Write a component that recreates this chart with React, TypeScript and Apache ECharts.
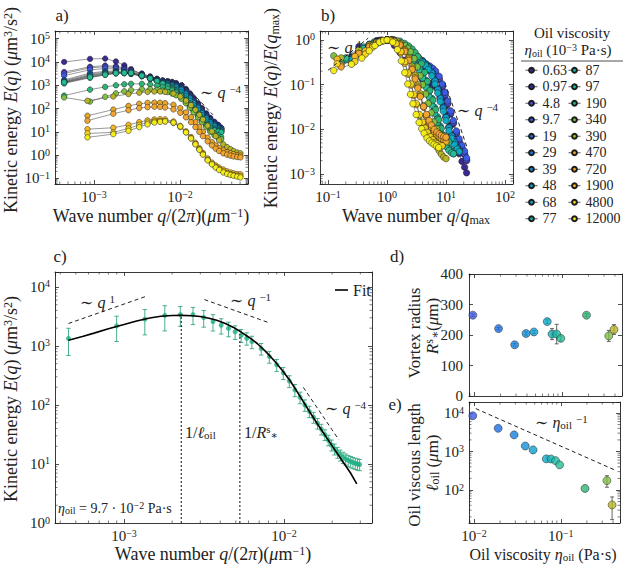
import React, { useEffect, useRef } from 'react';
import * as echarts from 'echarts';

const FONT = 'Liberation Serif, DejaVu Serif, serif';
const INK = '#222222';

// ---------- categories: oil viscosity (10^-3 Pa·s) ----------
const viscosityNames = ['0.63', '0.97', '4.8', '9.7', '19', '29', '39', '48', '68', '77', '87', '97', '190', '340', '390', '470', '720', '1900', '4800', '12000'];
const viscosityColors = ['#3b2a8f', '#3a31b3', '#4f4fd9', '#3a5be2', '#1b70e2', '#1480dd', '#118fd7', '#0e9dd2', '#0aa9c6', '#13b2b6', '#1cb9a6', '#26bc95', '#2eb376', '#7fbf42', '#b7b526', '#e9a72a', '#f2a52f', '#f8b822', '#f4d11d', '#f5ed19'];

// ---------- panel a: wave number grids q/(2π) (μm^-1) ----------
const qFine = [0.00045, 0.0009, 0.00135, 0.0018, 0.00225, 0.0027, 0.0036, 0.0045, 0.0054, 0.0063, 0.0072, 0.0081, 0.009, 0.01035, 0.0117, 0.01305, 0.0144, 0.0162, 0.018, 0.02025, 0.0225, 0.0252, 0.0279, 0.03015];
const qCoarse = [0.00084, 0.00168, 0.00252, 0.00336, 0.0042, 0.00504, 0.00588, 0.00672, 0.0084, 0.01008, 0.01176, 0.01344, 0.01512, 0.0168, 0.01848, 0.021, 0.02352, 0.02604, 0.02856, 0.03192, 0.03528, 0.03864, 0.042, 0.0462, 0.0504];

// ---------- panel a: kinetic energy E(q) (μm^3/s^2) per oil ----------
const E_0_63 = [10000, 13500, 14000, 10500, 7200, 4900, 3000, 2200, 1800, 1600, 1500, 1400, 1250, 1000, 700, 450, 290, 170, 105, 62, 40, 27, 20, 15];
const E_0_97 = [3700, 6200, 7000, 6500, 5500, 4500, 3200, 2400, 1900, 1600, 1450, 1300, 1150, 900, 620, 400, 260, 155, 95, 56, 36, 25, 19, 14];
const E_4_8 = [3200, 5600, 6200, 5800, 5000, 4200, 3000, 2300, 1850, 1550, 1400, 1250, 1100, 850, 580, 370, 240, 145, 88, 52, 34, 24, 18, 13];
const E_9_7 = [2600, 4600, 5200, 5000, 4500, 3800, 2800, 2200, 1800, 1500, 1350, 1200, 1050, 800, 540, 350, 225, 135, 82, 48, 32, 23, 17, 12];
const E_19 = [1700, 3300, 4000, 4100, 3900, 3500, 2700, 2100, 1700, 1450, 1300, 1150, 1000, 760, 510, 330, 210, 128, 78, 46, 30, 21, 16, 14];
const E_29 = [1550, 3000, 3700, 3800, 3600, 3300, 2600, 2000, 1650, 1400, 1250, 1100, 950, 720, 480, 310, 200, 120, 73, 43, 28, 20, 15, 13];
const E_39 = [1450, 2700, 3400, 3600, 3500, 3200, 2500, 1950, 1600, 1350, 1200, 1050, 900, 680, 450, 290, 185, 112, 68, 40, 26, 19, 14, 12];
const E_48 = [1400, 2600, 3300, 3500, 3400, 3100, 2450, 1900, 1550, 1300, 1150, 1000, 860, 640, 420, 270, 172, 104, 64, 38, 25, 18, 13.5, 11.5];
const E_68 = [1250, 2300, 3000, 3300, 3300, 3100, 2450, 1900, 1500, 1250, 1050, 880, 720, 520, 340, 215, 138, 84, 52, 31, 21, 15, 12, 10.5];
const E_77 = [1350, 2400, 3100, 3400, 3450, 3300, 2550, 1950, 1500, 1200, 980, 780, 620, 430, 270, 170, 108, 66, 41, 25, 17, 13, 11, 10];
const E_87 = [1200, 2100, 2800, 3200, 3300, 3250, 2550, 1950, 1500, 1180, 940, 730, 570, 380, 235, 148, 94, 58, 36, 22, 15, 12, 10.5, 9.5];
const E_97 = [1340, 2190, 2840, 3300, 3400, 3400, 2590, 1980, 1520, 1180, 900, 660, 480, 300, 180, 118, 78, 49, 31.5, 19.5, 14.2, 11.5, 10.2, 9.7];
const E_190 = [360, 650, 850, 1000, 1100, 1150, 1150, 1080, 960, 840, 720, 600, 490, 340, 215, 135, 85, 52, 32, 19, 12, 8.5, 7, 6];
const E_340 = [300, 200, 320, 450, 550, 620, 680, 680, 640, 580, 510, 440, 370, 260, 170, 108, 68, 42, 26, 16, 10, 7, 5.5, 4.8];
const E_390 = [214, 330, 420, 480, 520, 540, 540, 520, 440, 330, 220, 140, 88, 54, 34, 18.5, 10.5, 6.5, 4.3, 2.9, 2.2, 1.8, 1.5, 1.3, 1.2];
const E_470 = [49, 90, 130, 160, 175, 180, 178, 170, 145, 105, 68, 42, 26, 16, 10, 5.6, 3.6, 2.6, 2.0, 1.6, 1.35, 1.2, 1.1, 1.0, 0.95];
const E_720 = [30, 60, 85, 105, 115, 120, 118, 112, 92, 66, 42, 26, 16, 10, 6.5, 3.9, 2.6, 1.9, 1.5, 1.2, 1.05, 0.95, 0.88, 0.83, 0.8];
const E_1900 = [13, 15, 20, 26, 31, 34, 35, 34, 28, 18, 10.5, 6, 3.4, 2.0, 1.25, 0.72, 0.48, 0.36, 0.29, 0.24, 0.2, 0.18, 0.165, 0.155, 0.15];
const E_4800 = [8.5, 9.5, 14, 20, 25, 28, 29, 28, 24, 16, 9.5, 5.3, 3, 1.75, 1.1, 0.62, 0.42, 0.31, 0.25, 0.2, 0.17, 0.15, 0.14, 0.13, 0.125];
const E_12000 = [5.8, 8, 11, 16, 21, 25, 27, 28, 25, 17, 9.5, 5.2, 2.9, 1.7, 1.05, 0.6, 0.4, 0.29, 0.23, 0.18, 0.155, 0.14, 0.13, 0.12, 0.11];

const energyByOil = [E_0_63, E_0_97, E_4_8, E_9_7, E_19, E_29, E_39, E_48, E_68, E_77, E_87, E_97, E_190, E_340, E_390, E_470, E_720, E_1900, E_4800, E_12000];
const gridByOil = energyByOil.map((_, i) => (i < 14 ? qFine : qCoarse));

// guide lines
const guideA4 = [[0.01055, 1380], [0.0242, 54]];
const guideB1 = [[0.1, 0.21], [0.48, 1.1]];
const guideB4 = [[9.6, 0.11], [22.7, 0.004]];

// ---------- panel c: η = 97 mPa·s with fit ----------
const cQ = [0.00045, 0.0009, 0.00135, 0.0018, 0.00225, 0.0027, 0.00315, 0.0036, 0.00405, 0.0045, 0.00495, 0.0054, 0.00585, 0.0063, 0.0072, 0.0081, 0.009, 0.0099, 0.0108, 0.0117, 0.0126, 0.0135, 0.0144, 0.0153, 0.0162, 0.0171, 0.018, 0.0189, 0.0198, 0.0207, 0.0216, 0.0225, 0.0234, 0.0243, 0.0252, 0.0261, 0.027, 0.0279, 0.0288, 0.0297];
const cE = [1340, 2190, 2840, 3300, 3400, 3400, 3030, 2590, 2240, 1980, 1740, 1520, 1350, 1180, 900, 660, 480, 350, 255, 180, 135, 100, 78, 62, 49, 39, 31.5, 25.5, 21, 18, 15.8, 14.2, 13, 12.2, 11.5, 11, 10.6, 10.3, 10, 9.8];
const cErr = [650, 1000, 1300, 1500, 1250, 1100, 950, 800, 650, 550, 450, 380, 320, 280, 200, 150, 110, 80, 58, 42, 30, 22, 17, 13, 10, 8, 6.5, 5.2, 4.4, 3.8, 3.3, 3, 2.8, 2.6, 2.5, 2.4, 2.3, 2.2, 2.2, 2.1];
const fitQ = [0.00045, 0.00055, 0.00065, 0.0008, 0.001, 0.0012, 0.00145, 0.0017, 0.002, 0.0023, 0.00265, 0.003, 0.0034, 0.0038, 0.0043, 0.0048, 0.0054, 0.006, 0.0068, 0.0077, 0.0087, 0.0098, 0.011, 0.0124, 0.014, 0.016, 0.018, 0.0205, 0.023, 0.026, 0.0285];
const fitE = [1250, 1450, 1650, 1950, 2300, 2650, 2980, 3180, 3290, 3300, 3250, 3150, 2950, 2720, 2400, 2080, 1720, 1420, 1100, 800, 560, 380, 250, 150, 88, 50, 31, 18.4, 11.6, 7.1, 4.6];
const guideC1 = [[0.00045, 2400], [0.00138, 6960]];
const guideCm1 = [[0.00318, 6110], [0.0081, 2460]];
const guideCm4 = [[0.0132, 199], [0.022, 25.8]];
const lineOilLength = [[0.00228, 1], [0.00228, 3400]];
const lineVortex = [[0.0053, 1], [0.0053, 1600]];

// ---------- panels d, e ----------
const oilViscosity = [0.0097, 0.019, 0.029, 0.039, 0.048, 0.068, 0.077, 0.087, 0.097, 0.19, 0.34, 0.39];
const oilColorIndex = [3, 4, 5, 6, 7, 8, 9, 10, 11, 12, 13, 14];
const vortexRadius = [265, 221, 168, 205, 210, 244, 203, 203, 189, 265, 197, 218];
const vortexRadiusErr = [4, 4, 4, 5, 5, 6, 18, 32, 8, 5, 18, 16];
const viscousLength = [8500, 4000, 2700, 1390, 1100, 645, 640, 580, 450, 110, 175, 41];
const viscousLengthLow = [8500, 4000, 2700, 1390, 1100, 645, 640, 580, 450, 110, 118, 17];
const viscousLengthHigh = [8500, 4000, 2700, 1390, 1100, 645, 640, 580, 450, 110, 235, 66];
const guideE = [[0.0105, 13000], [0.42, 330]];

// ---------- layout ----------
const grids = [
  { left: 55, top: 31, width: 193, height: 153 },
  { left: 320, top: 31, width: 193, height: 153 },
  { left: 55, top: 272, width: 317, height: 251 },
  { left: 469, top: 274, width: 153, height: 122 },
  { left: 469, top: 402, width: 153, height: 121 },
];
const p10 = (e: number) => Math.pow(10, e);
const axisSpecs: any[] = [
  { x: { type: 'log', min: p10(-3.453), max: p10(-1.209), labels: true }, y: { type: 'log', min: p10(-1.24), max: p10(5.33), labels: true } },
  { x: { type: 'log', min: p10(-1.136), max: p10(2.136), labels: true }, y: { type: 'log', min: p10(-3.22), max: p10(0.2), labels: true } },
  { x: { type: 'log', min: p10(-3.431), max: p10(-1.45), labels: true }, y: { type: 'log', min: 1, max: p10(4.253), labels: true } },
  { x: { type: 'log', min: p10(-2.057), max: p10(-0.318), labels: false }, y: { type: 'value', min: 0, max: 400, interval: 100, labels: true } },
  { x: { type: 'log', min: p10(-2.057), max: p10(-0.318), labels: true }, y: { type: 'log', min: p10(1.143), max: p10(4.286), labels: true } },
];

const TICK = 15;
const logLabel = {
  margin: 5,
  formatter: (v: number) => {
    const l = Math.log10(v);
    const r = Math.round(l);
    if (Math.abs(l - r) > 1e-3) return '';
    return `{m|10}{s|${r < 0 ? '−' + -r : r}}`;
  },
  rich: {
    m: { fontFamily: FONT, fontSize: TICK, lineHeight: 16, color: INK },
    s: { fontFamily: FONT, fontSize: 10, lineHeight: 8, verticalAlign: 'top', color: INK },
  },
};

function makeAxis(dim: 'x' | 'y', gi: number, spec: any, mirror: boolean) {
  const ax: any = {
    type: spec.type,
    gridIndex: gi,
    min: spec.min,
    max: spec.max,
    position: dim === 'x' ? (mirror ? 'top' : 'bottom') : mirror ? 'right' : 'left',
    axisLine: { show: true, onZero: false, lineStyle: { color: INK, width: 0.9 } },
    axisTick: { show: true, inside: true, length: 4, lineStyle: { color: INK, width: 0.8 } },
    splitLine: { show: false },
    axisLabel: { show: false },
  };
  if (spec.type === 'log') ax.logBase = 10;
  if (spec.interval) ax.interval = spec.interval;
  if (!mirror && spec.labels) {
    ax.axisLabel =
      spec.type === 'log'
        ? { show: true, ...logLabel }
        : { show: true, margin: 6, fontFamily: FONT, fontSize: TICK, lineHeight: 16, color: INK };
  }
  return ax;
}

function minorValues(min: number, max: number) {
  const out: number[] = [];
  for (let d = Math.floor(Math.log10(min)); d <= Math.ceil(Math.log10(max)); d++) {
    for (let k = 2; k <= 9; k++) {
      const v = k * Math.pow(10, d);
      if (v > min && v < max) out.push(v);
    }
  }
  return out;
}

function minorTickSeries(gi: number) {
  const s = axisSpecs[gi];
  const data: number[][] = [];
  const yRef = s.y.type === 'log' ? s.y.min * 1.0001 : s.y.min;
  const xRef = s.x.min * 1.0001;
  if (s.x.type === 'log') minorValues(s.x.min, s.x.max).forEach((v) => data.push([v, yRef, 0]));
  if (s.y.type === 'log') minorValues(s.y.min, s.y.max).forEach((v) => data.push([xRef, v, 1]));
  return {
    type: 'custom',
    xAxisIndex: 2 * gi,
    yAxisIndex: 2 * gi,
    silent: true,
    z: 1,
    data,
    renderItem: (params: any, api: any) => {
      const cs = params.coordSys;
      const p = api.coord([api.value(0), api.value(1)]);
      const st = { stroke: INK, lineWidth: 0.6 };
      const L = 2.5;
      if (api.value(2) === 0) {
        return {
          type: 'group',
          children: [
            { type: 'line', shape: { x1: p[0], y1: cs.y + cs.height, x2: p[0], y2: cs.y + cs.height - L }, style: st },
            { type: 'line', shape: { x1: p[0], y1: cs.y, x2: p[0], y2: cs.y + L }, style: st },
          ],
        };
      }
      return {
        type: 'group',
        children: [
          { type: 'line', shape: { x1: cs.x, y1: p[1], x2: cs.x + L, y2: p[1] }, style: st },
          { type: 'line', shape: { x1: cs.x + cs.width, y1: p[1], x2: cs.x + cs.width - L, y2: p[1] }, style: st },
        ],
      };
    },
  };
}

function errorBarSeries(gi: number, data: number[][], color: string, cap: number, z: number) {
  // data rows: [x, low, high]
  return {
    type: 'custom',
    xAxisIndex: 2 * gi,
    yAxisIndex: 2 * gi,
    silent: true,
    z,
    data,
    renderItem: (_p: any, api: any) => {
      const x = api.value(0);
      const lo = api.value(1);
      const hi = api.value(2);
      if (!(hi > lo)) return null;
      const a = api.coord([x, hi]);
      const b = api.coord([x, lo]);
      const st = { stroke: color, lineWidth: 0.9 };
      return {
        type: 'group',
        children: [
          { type: 'line', shape: { x1: a[0], y1: a[1], x2: b[0], y2: b[1] }, style: st },
          { type: 'line', shape: { x1: a[0] - cap, y1: a[1], x2: a[0] + cap, y2: a[1] }, style: st },
          { type: 'line', shape: { x1: b[0] - cap, y1: b[1], x2: b[0] + cap, y2: b[1] }, style: st },
        ],
      };
    },
  };
}

function guide(gi: number, pts: number[][], dash: number[] = [4, 3], width = 1) {
  return {
    type: 'line',
    xAxisIndex: 2 * gi,
    yAxisIndex: 2 * gi,
    data: pts,
    symbol: 'none',
    silent: true,
    z: 5,
    lineStyle: { color: INK, width, type: dash },
  };
}

const richFor = (s: number) => {
  const sm = Math.round(s * 0.68);
  const lh = Math.round(s * 1.05);
  const lhs = Math.round(s * 0.55);
  return {
    n: { fontFamily: FONT, fontSize: s, lineHeight: lh, color: INK },
    i: { fontFamily: FONT, fontSize: s, lineHeight: lh, fontStyle: 'italic', color: INK },
    sup: { fontFamily: FONT, fontSize: sm, lineHeight: lhs, verticalAlign: 'top', color: INK },
    sub: { fontFamily: FONT, fontSize: sm, lineHeight: lhs, verticalAlign: 'bottom', color: INK },
  };
};

function txt(x: number, y: number, text: string, size: number, align = 'center', rot = 0) {
  return {
    type: 'text',
    x,
    y,
    rotation: rot,
    silent: true,
    z: 100,
    style: { text, rich: richFor(size), align, verticalAlign: 'middle', fill: INK, fontFamily: FONT, fontSize: size },
  };
}

function buildOption() {
  const xAxis: any[] = [];
  const yAxis: any[] = [];
  axisSpecs.forEach((s, gi) => {
    xAxis.push(makeAxis('x', gi, s.x, false), makeAxis('x', gi, s.x, true));
    yAxis.push(makeAxis('y', gi, s.y, false), makeAxis('y', gi, s.y, true));
  });

  const series: any[] = [];
  [0, 1, 2, 3, 4].forEach((gi) => series.push(minorTickSeries(gi)));

  // panel a
  energyByOil.forEach((e, i) => {
    const q = gridByOil[i];
    series.push({
      type: 'line',
      name: viscosityNames[i],
      xAxisIndex: 0,
      yAxisIndex: 0,
      data: e.map((v, k) => [q[k], v]),
      symbol: 'circle',
      symbolSize: 5.5,
      showSymbol: true,
      silent: true,
      z: 2,
      lineStyle: { color: '#555', width: 0.6 },
      itemStyle: { color: viscosityColors[i], borderColor: '#1a1a1a', borderWidth: 0.5 },
    });
  });
  series.push(guide(0, guideA4));

  // panel b (normalised from panel a data)
  energyByOil.forEach((e, i) => {
    const q = gridByOil[i];
    let k = 0;
    e.forEach((v, j) => {
      if (v > e[k]) k = j;
    });
    series.push({
      type: 'line',
      name: viscosityNames[i],
      xAxisIndex: 2,
      yAxisIndex: 2,
      data: e.map((v, j) => [q[j] / q[k], v / e[k]]),
      symbol: 'circle',
      symbolSize: 6.5,
      silent: true,
      z: 2,
      lineStyle: { color: '#555', width: 0.6 },
      itemStyle: { color: viscosityColors[i], borderColor: '#1a1a1a', borderWidth: 0.5 },
    });
  });
  series.push(guide(1, guideB1), guide(1, guideB4));

  // panel c
  series.push(errorBarSeries(2, cQ.map((q, k) => [q, cE[k] - cErr[k], cE[k] + cErr[k]]), '#35a77f', 2.2, 2));
  series.push({
    type: 'scatter',
    xAxisIndex: 4,
    yAxisIndex: 4,
    data: cQ.map((q, k) => [q, cE[k]]),
    symbol: 'circle',
    symbolSize: 5,
    silent: true,
    z: 3,
    itemStyle: { color: '#1fae85' },
  });
  series.push({
    type: 'line',
    name: 'Fit',
    xAxisIndex: 4,
    yAxisIndex: 4,
    data: fitQ.map((q, k) => [q, fitE[k]]),
    symbol: 'none',
    silent: true,
    z: 4,
    color: '#000',
    lineStyle: { color: '#000', width: 1.6 },
    itemStyle: { color: '#000' },
  });
  series.push(guide(2, guideC1), guide(2, guideCm1), guide(2, guideCm4));
  series.push(guide(2, lineOilLength, [2, 2], 1.1), guide(2, lineVortex, [2, 2], 1.1));

  // panel d
  series.push(
    errorBarSeries(3, oilViscosity.map((x, k) => [x, vortexRadius[k] - vortexRadiusErr[k], vortexRadius[k] + vortexRadiusErr[k]]), '#555', 2, 2),
  );
  series.push({
    type: 'scatter',
    xAxisIndex: 6,
    yAxisIndex: 6,
    data: oilViscosity.map((x, k) => ({ value: [x, vortexRadius[k]], itemStyle: { color: viscosityColors[oilColorIndex[k]] } })),
    symbol: 'circle',
    symbolSize: 8,
    silent: true,
    z: 3,
    itemStyle: { borderColor: '#222', borderWidth: 0.6 },
  });

  // panel e
  series.push(errorBarSeries(4, oilViscosity.map((x, k) => [x, viscousLengthLow[k], viscousLengthHigh[k]]), '#555', 2, 2));
  series.push({
    type: 'scatter',
    xAxisIndex: 8,
    yAxisIndex: 8,
    data: oilViscosity.map((x, k) => ({ value: [x, viscousLength[k]], itemStyle: { color: viscosityColors[oilColorIndex[k]] } })),
    symbol: 'circle',
    symbolSize: 8,
    silent: true,
    z: 3,
    itemStyle: { borderColor: '#222', borderWidth: 0.6 },
  });
  series.push(guide(4, guideE));

  const legendText = { fontFamily: FONT, fontSize: 14, lineHeight: 16.5, color: INK };
  const legend = [
    {
      data: viscosityNames.slice(0, 10),
      orient: 'vertical',
      left: 520,
      top: 57,
      itemWidth: 12,
      itemHeight: 6,
      itemGap: 0,
      selectedMode: false,
      textStyle: legendText,
      lineStyle: { width: 1 },
    },
    {
      data: viscosityNames.slice(10),
      orient: 'vertical',
      left: 563,
      top: 57,
      itemWidth: 12,
      itemHeight: 6,
      itemGap: 0,
      selectedMode: false,
      textStyle: legendText,
      lineStyle: { width: 1 },
    },
    {
      data: [{ name: 'Fit', icon: 'rect' }],
      left: 330,
      top: 276,
      itemWidth: 13,
      itemHeight: 1.6,
      selectedMode: false,
      textStyle: { fontFamily: FONT, fontSize: 16, lineHeight: 18, color: INK },
    },
  ];

  const T = 18;
  const graphic = [
    txt(62, 15, '{n|a)}', 17),
    txt(328, 15, '{n|b)}', 17),
    txt(60, 256, '{n|c)}', 17),
    txt(397, 256, '{n|d)}', 17),
    txt(395, 404, '{n|e)}', 17),
    // axis titles
    txt(11, 110, '{n|Kinetic energy }{i|E}{n|(}{i|q}{n|) (}{i|μ}{n|m}{sup|3}{n|/s}{sup|2}{n|)}', T, 'center', Math.PI / 2),
    txt(151, 216, '{n|Wave number }{i|q}{n|/(2}{i|π}{n|)(}{i|μ}{n|m}{sup|−1}{n|)}', T),
    txt(271, 108, '{n|Kinetic energy }{i|E}{n|(}{i|q}{n|)/}{i|E}{n|(}{i|q}{sub|max}{n|)}', T, 'center', Math.PI / 2),
    txt(416, 216, '{n|Wave number }{i|q}{n|/}{i|q}{sub|max}', T),
    txt(11, 399, '{n|Kinetic energy }{i|E}{n|(}{i|q}{n|) (}{i|μ}{n|m}{sup|3}{n|/s}{sup|2}{n|)}', T, 'center', Math.PI / 2),
    txt(213, 554, '{n|Wave number }{i|q}{n|/(2}{i|π}{n|)(}{i|μ}{n|m}{sup|−1}{n|)}', T),
    txt(414, 333, '{n|Vortex radius}', 17, 'center', Math.PI / 2),
    txt(432, 326, '{i|R}{sup|s}{sub|∗}{n|(}{i|μ}{n|m)}', 17, 'center', Math.PI / 2),
    txt(414, 465, '{n|Oil viscous length}', 17, 'center', Math.PI / 2),
    txt(432, 463, '{i|ℓ}{sub|oil}{n| (}{i|μ}{n|m)}', 17, 'center', Math.PI / 2),
    txt(543, 554, '{n|Oil viscosity }{i|η}{sub|oil}{n| (Pa·s)}', 16),
    // legend title
    txt(572, 33, '{n|Oil viscosity}', 15),
    txt(568, 50, '{i|η}{sub|oil}{n| (10}{sup|−3}{n| Pa·s)}', 15),
    { type: 'line', silent: true, shape: { x1: 521, y1: 61, x2: 623, y2: 61 }, style: { stroke: INK, lineWidth: 0.8 } },
    // annotations
    txt(200, 92, '{n|∼ }{i|q}{n| }{sup|−4}', 16, 'left'),
    txt(327, 47, '{n|∼ }{i|q}{n| }{sup|1}', 16, 'left'),
    txt(457, 110, '{n|∼ }{i|q}{n| }{sup|−4}', 16, 'left'),
    txt(80, 302, '{n|∼ }{i|q}{n| }{sup|1}', 16, 'left'),
    txt(230, 300, '{n|∼ }{i|q}{n| }{sup|−1}', 16, 'left'),
    txt(325, 408, '{n|∼ }{i|q}{n| }{sup|−4}', 16, 'left'),
    txt(185, 432, '{n|1/}{i|ℓ}{sub|oil}', 16, 'left'),
    txt(244, 432, '{n|1/}{i|R}{sup|s}{sub|∗}', 16, 'left'),
    txt(58, 508, '{i|η}{sub|oil}{n| = 9.7 · 10}{sup|−2}{n| Pa·s}', 14, 'left'),
    txt(535, 422, '{n|∼ }{i|η}{sub|oil}{n| }{sup|−1}', 16, 'left'),
  ];

  return {
    animation: false,
    backgroundColor: '#ffffff',
    grid: grids.map((g) => ({ ...g, containLabel: false })),
    xAxis,
    yAxis,
    legend,
    series,
    graphic,
  };
}

export default function App() {
  const ref = useRef<HTMLDivElement>(null);
  useEffect(() => {
    if (!ref.current) return;
    const chart = echarts.init(ref.current, null, { renderer: 'svg' });
    chart.setOption(buildOption() as any);
    return () => chart.dispose();
  }, []);
  return (
    <div
      ref={ref}
      style={{ position: 'absolute', left: 0, top: 0, width: 623, height: 564, background: '#fff' }}
    />
  );
}
